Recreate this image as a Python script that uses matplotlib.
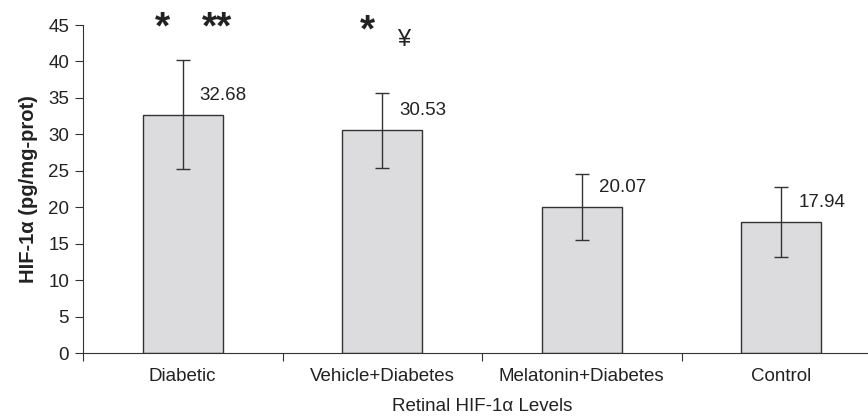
import matplotlib.pyplot as plt
import numpy as np

plt.rcParams['font.family'] = ['Liberation Sans', 'DejaVu Sans']

groups = ['Diabetic', 'Vehicle+Diabetes', 'Melatonin+Diabetes', 'Control']
means = [32.68, 30.53, 20.07, 17.94]
errs = [7.5, 5.1, 4.5, 4.8]
value_labels = ['32.68', '30.53', '20.07', '17.94']

txt = '#222222'
fig = plt.figure(figsize=(8.68, 4.18), dpi=100)
ax = fig.add_axes([83 / 868, 65 / 418, 798 / 868, 328 / 418])

x = np.arange(len(groups))
ax.bar(x, means, width=0.4, color='#dcdcde', edgecolor='#333333', linewidth=1.0, zorder=2)
ax.errorbar(x, means, yerr=errs, fmt='none', ecolor='#333333', elinewidth=1.0,
            capsize=5, capthick=1.0, zorder=3)

for xi, m, e, lab in zip(x, means, errs, value_labels):
    ax.text(xi + 0.085, m + 2.7, lab, fontsize=13.5, color=txt, ha='left', va='center')

# significance marks above the first two bars
ax.text(-0.1, 43.1, '*', fontsize=28, fontweight='bold', color=txt, ha='center', va='baseline', clip_on=False)
ax.text(0.172, 43.1, '**', fontsize=28, fontweight='bold', color=txt, ha='center', va='baseline', clip_on=False)
ax.text(0.924, 42.8, '*', fontsize=28, fontweight='bold', color=txt, ha='center', va='baseline', clip_on=False)
ax.text(1.109, 43.0, '¥', fontsize=17, color=txt, ha='center', va='center', clip_on=False)

ax.set_xlim(-0.5, 3.5)
ax.set_ylim(0, 45)
ax.set_yticks(np.arange(0, 46, 5))
ax.set_xticks(np.arange(-0.5, 4.0, 1.0))
ax.set_xticklabels([])
ax.set_xticks(x, minor=True)
ax.set_xticklabels(groups, minor=True)
ax.tick_params(axis='x', which='minor', length=0, pad=11, labelsize=13.5, labelcolor=txt)
ax.tick_params(axis='x', which='major', length=6, direction='out', color='#333333')
ax.tick_params(axis='y', length=6, pad=4, direction='out', labelsize=13.5, labelcolor=txt, color='#333333')

for s in ['top', 'right']:
    ax.spines[s].set_visible(False)
for s in ['left', 'bottom']:
    ax.spines[s].set_color('#333333')

ax.set_ylabel('HIF-1\u03b1 (pg/mg-prot)', fontsize=14.5, fontweight='bold', color=txt, labelpad=7)
ax.set_xlabel('Retinal HIF-1\u03b1 Levels', fontsize=13.5, color=txt, labelpad=9)

fig.savefig('out.png', dpi=100)
